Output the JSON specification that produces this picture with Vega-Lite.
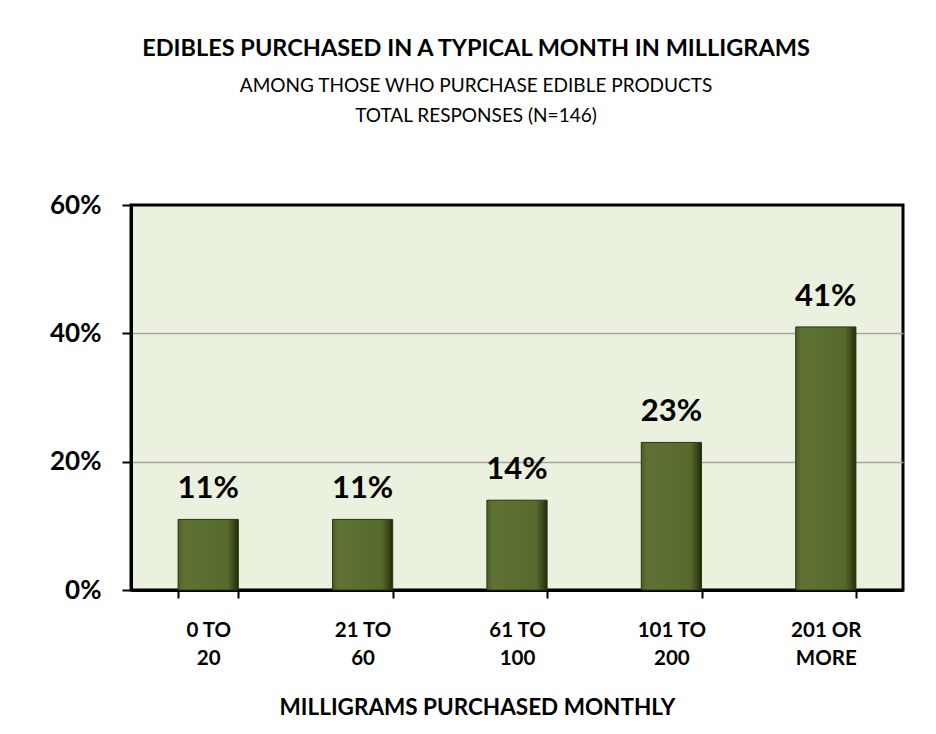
{
  "$schema": "https://vega.github.io/schema/vega-lite/v6.json",
  "width": 772,
  "height": 385,
  "autosize": {"type": "none"},
  "padding": {"left": 131, "top": 205, "right": 33, "bottom": 144},
  "background": "white",
  "title": {
    "text": "EDIBLES PURCHASED IN A TYPICAL MONTH IN MILLIGRAMS",
    "subtitle": ["AMONG THOSE WHO PURCHASE EDIBLE PRODUCTS", "TOTAL RESPONSES (N=146)"],
    "anchor": "middle",
    "dx": -41,
    "offset": 66,
    "font": "Lato",
    "fontSize": 23.5,
    "fontWeight": "bold",
    "color": "black",
    "subtitleFont": "Lato",
    "subtitleFontSize": 19,
    "subtitleColor": "black",
    "subtitlePadding": 17,
    "subtitleLineHeight": 30
  },
  "data": {
    "values": [
      {"range": "0 TO|20", "share": 0.11},
      {"range": "21 TO|60", "share": 0.11},
      {"range": "61 TO|100", "share": 0.14},
      {"range": "101 TO|200", "share": 0.23},
      {"range": "201 OR|MORE", "share": 0.41}
    ]
  },
  "config": {
    "view": {"fill": "#ebf1df", "stroke": "black", "strokeWidth": 3}
  },
  "encoding": {
    "x": {
      "field": "range",
      "type": "nominal",
      "sort": null,
      "scale": {"paddingInner": 0.61, "paddingOuter": 0.305},
      "axis": {
        "title": "MILLIGRAMS PURCHASED MONTHLY",
        "titleFont": "Lato",
        "titleFontSize": 22.5,
        "titleFontWeight": "bold",
        "titleColor": "black",
        "titlePadding": 28,
        "titleX": 346,
        "labelAngle": 0,
        "labelExpr": "split(datum.label, '|')",
        "labelFont": "Lato",
        "labelFontSize": 20.5,
        "labelFontWeight": "bold",
        "labelColor": "black",
        "labelLineHeight": 28,
        "labelPadding": 22,
        "tickBand": "extent",
        "tickSize": 8,
        "tickWidth": 2,
        "tickColor": "black",
        "domainColor": "black",
        "domainWidth": 3
      }
    },
    "y": {
      "field": "share",
      "type": "quantitative",
      "scale": {"domain": [0, 0.6], "nice": false},
      "axis": {
        "title": null,
        "values": [0, 0.2, 0.4, 0.6],
        "format": ".0%",
        "labelFont": "Lato",
        "labelFontSize": 26,
        "labelFontWeight": "bold",
        "labelColor": "black",
        "labelPadding": 21,
        "tickSize": 9,
        "tickWidth": 2,
        "tickColor": "black",
        "domainColor": "black",
        "domainWidth": 3,
        "grid": true,
        "gridColor": "#a6a6a6",
        "gridWidth": 1.5,
        "gridOpacity": {"condition": {"test": "datum.value == 0 || datum.value == 0.6", "value": 0}, "value": 1}
      }
    }
  },
  "layer": [
    {
      "mark": {
        "type": "bar",
        "stroke": "#2a3512",
        "strokeWidth": 1,
        "color": {
          "gradient": "linear",
          "x1": 0, "y1": 0, "x2": 1, "y2": 0,
          "stops": [
            {"offset": 0, "color": "#4a5e22"},
            {"offset": 0.1, "color": "#5e7333"},
            {"offset": 0.82, "color": "#566a2c"},
            {"offset": 0.92, "color": "#3b4a1b"},
            {"offset": 1, "color": "#1f290b"}
          ]
        }
      }
    },
    {
      "mark": {
        "type": "text",
        "baseline": "bottom",
        "dy": -14,
        "font": "Lato",
        "fontSize": 31,
        "fontWeight": "bold",
        "color": "black"
      },
      "encoding": {
        "text": {"field": "share", "type": "quantitative", "format": ".0%"}
      }
    }
  ]
}
